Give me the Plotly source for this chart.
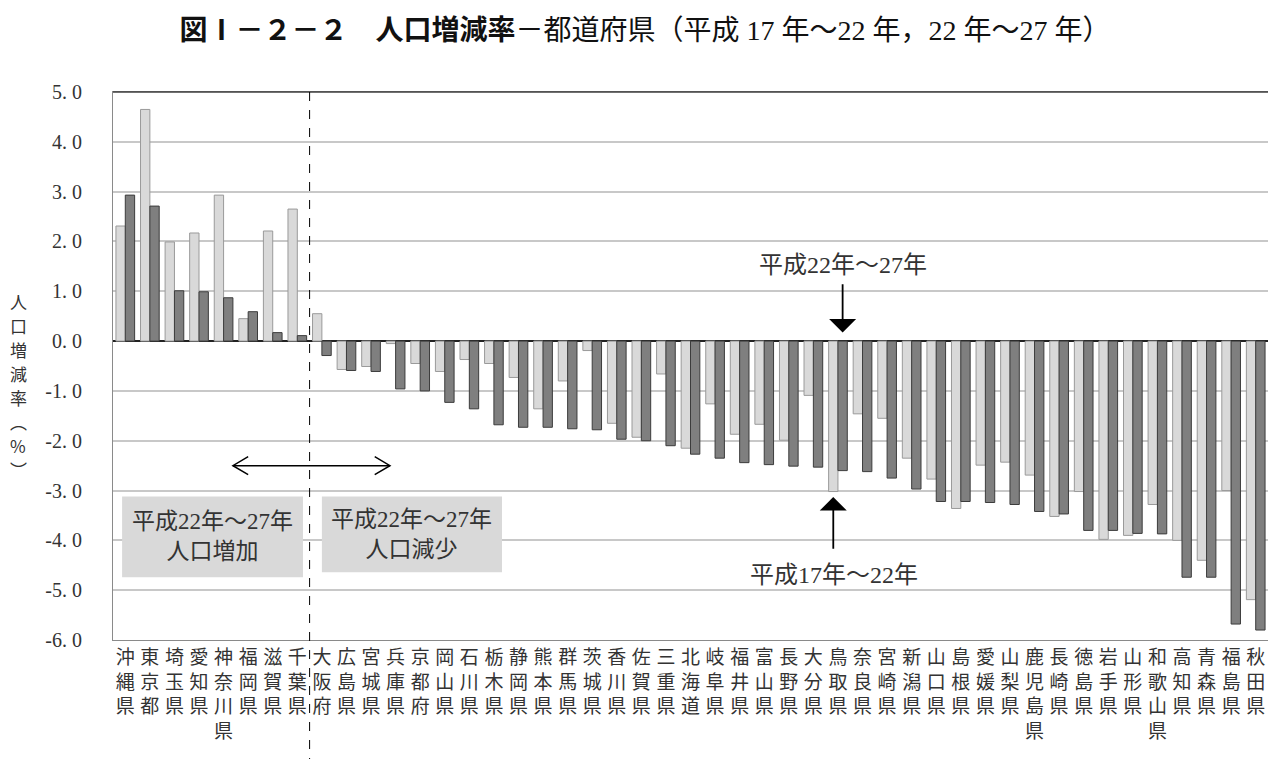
import plotly.graph_objects as go

prefs = ["沖縄県", "東京都", "埼玉県", "愛知県", "神奈川県", "福岡県", "滋賀県", "千葉県",
         "大阪府", "広島県", "宮城県", "兵庫県", "京都府", "岡山県", "石川県", "栃木県",
         "静岡県", "熊本県", "群馬県", "茨城県", "香川県", "佐賀県", "三重県", "北海道",
         "岐阜県", "福井県", "富山県", "長野県", "大分県", "鳥取県", "奈良県", "宮崎県",
         "新潟県", "山口県", "島根県", "愛媛県", "山梨県", "鹿児島県", "長崎県", "徳島県",
         "岩手県", "山形県", "和歌山県", "高知県", "青森県", "福島県", "秋田県"]

rate_h17_22 = [2.31, 4.65, 1.99, 2.17, 2.93, 0.45, 2.21, 2.65,
               0.55, -0.57, -0.51, -0.05, -0.45, -0.61, -0.37, -0.45,
               -0.73, -1.36, -0.80, -0.19, -1.65, -1.93, -0.66, -2.15,
               -1.26, -1.87, -1.67, -1.99, -1.09, -3.02, -1.46, -1.55,
               -2.35, -2.77, -3.36, -2.49, -2.43, -2.69, -3.52, -3.02,
               -3.98, -3.90, -3.28, -4.00, -4.40, -3.00, -5.19]

rate_h22_27 = [2.93, 2.71, 1.01, 0.99, 0.87, 0.59, 0.17, 0.11,
               -0.29, -0.59, -0.61, -0.96, -1.00, -1.23, -1.36, -1.68,
               -1.73, -1.73, -1.76, -1.78, -1.97, -2.00, -2.10, -2.27,
               -2.35, -2.44, -2.48, -2.51, -2.53, -2.60, -2.62, -2.75,
               -2.97, -3.22, -3.22, -3.24, -3.28, -3.42, -3.47, -3.80,
               -3.80, -3.86, -3.87, -4.74, -4.74, -5.68, -5.80]

y_ticks = [5, 4, 3, 2, 1, 0, -1, -2, -3, -4, -5, -6]
y_ticktext = ["5. 0", "4. 0", "3. 0", "2. 0", "1. 0", "0. 0", "-1. 0", "-2. 0",
              "-3. 0", "-4. 0", "-5. 0", "-6. 0"]

y_title_chars = ["人", "口", "増", "減", "率", "︵", "%", "︶"]

SERIF = "Liberation Serif, Noto Sans CJK JP"
SANS = "Noto Sans CJK JP"

xcats = ["<br>".join(p) for p in prefs]

fig = go.Figure()
fig.add_trace(go.Bar(x=xcats, y=rate_h17_22, name="平成17年～22年",
                     marker=dict(color="#d9d9d9", line=dict(color="#9a9a9a", width=1))))
fig.add_trace(go.Bar(x=xcats, y=rate_h22_27, name="平成22年～27年",
                     marker=dict(color="#7f7f7f", line=dict(color="#3c3c3c", width=1))))

n = len(prefs)
split = 7.5  # between 千葉県 and 大阪府

# figure is placed at an 8px offset in the page
W, H = 1268, 751
ML, MR, MT, MB = 105, 8, 84, 119
plot_w = W - ML - MR
plot_h = H - MT - MB

shapes = [
    dict(type="line", xref="paper", yref="paper", x0=0, x1=1, y0=1, y1=1,
         line=dict(color="#404040", width=1.5), layer="above"),
    dict(type="line", xref="paper", yref="paper",
         x0=(split + 0.5) / n, x1=(split + 0.5) / n, y0=1, y1=-(MB + 2) / plot_h,
         line=dict(color="black", width=1, dash="dash"), layer="above"),
    dict(type="rect", xref="x", yref="y", x0=-0.13, x1=7.23, y0=-3.12, y1=-4.74,
         fillcolor="#d9d9d9", line=dict(width=0), layer="above"),
    dict(type="rect", xref="x", yref="y", x0=8.0, x1=15.33, y0=-3.12, y1=-4.64,
         fillcolor="#d9d9d9", line=dict(width=0), layer="above"),
    dict(type="line", xref="x", yref="y", x0=4.38, x1=10.77, y0=-2.5, y1=-2.5,
         line=dict(color="black", width=1.5), layer="above"),
    dict(type="path", xref="x", yref="y", path="M 5.0,-2.32 L 4.38,-2.5 L 5.0,-2.68",
         line=dict(color="black", width=1.5), layer="above"),
    dict(type="path", xref="x", yref="y", path="M 10.15,-2.32 L 10.77,-2.5 L 10.15,-2.68",
         line=dict(color="black", width=1.5), layer="above"),
]

annotations = []
# vertical y-axis title, one character per annotation
for i, ch in enumerate(y_title_chars):
    ypix = 301 - 8 + 24 * i
    annotations.append(dict(
        text=ch, xref="paper", yref="paper",
        x=(18 - 8 - ML) / plot_w, y=1 - (ypix - MT) / plot_h,
        xanchor="center", yanchor="middle", showarrow=False,
        font=dict(family=SANS, size=17, color="#333333")))

annotations += [
    dict(text="平成22年～27年<br>人口増加", xref="x", yref="y", x=3.55, y=-3.93,
         showarrow=False, align="center", font=dict(family=SERIF, size=23, color="#333333")),
    dict(text="平成22年～27年<br>人口減少", xref="x", yref="y", x=11.65, y=-3.88,
         showarrow=False, align="center", font=dict(family=SERIF, size=23, color="#333333")),
    dict(text="", xref="x", yref="y", x=29.19, y=0.17, axref="x", ayref="y",
         ax=29.19, ay=1.17, showarrow=True, arrowhead=1, arrowsize=2.5, arrowwidth=1.8,
         arrowcolor="black"),
    dict(text="平成22年～27年", xref="x", yref="y", x=29.2, y=1.53, showarrow=False,
         font=dict(family=SERIF, size=24, color="#333333")),
    dict(text="", xref="x", yref="y", x=28.81, y=-3.13, axref="x", ayref="y",
         ax=28.81, ay=-4.2, showarrow=True, arrowhead=1, arrowsize=2.5, arrowwidth=1.8,
         arrowcolor="black"),
    dict(text="平成17年～22年", xref="x", yref="y", x=28.85, y=-4.69, showarrow=False,
         font=dict(family=SERIF, size=24, color="#333333")),
]

fig.update_layout(
    width=W, height=H,
    margin=dict(l=ML, r=MR, t=MT, b=MB),
    paper_bgcolor="white", plot_bgcolor="white",
    barmode="group", bargap=0.24, bargroupgap=0,
    showlegend=False,
    title=dict(
        text="<b>図Ⅰ－２－２　人口増減率</b><span style='font-family:Liberation Serif, Noto Sans CJK JP'>－都道府県（平成 17 年～22 年，22 年～27 年）</span>",
        x=(645 - 8) / W, xanchor="center", xref="container",
        y=1 - (30 - 8) / H, yanchor="middle", yref="container",
        font=dict(family=SANS, size=28, color="#111111")),
    xaxis=dict(type="category", showgrid=False, ticks="", showline=True, mirror=True,
               linecolor="#8a8a8a", linewidth=1, tickangle=0,
               tickfont=dict(family=SANS, size=19, color="#333333"),
               range=[-0.5, n - 0.5]),
    yaxis=dict(range=[-6, 5], tickvals=y_ticks, ticktext=y_ticktext,
               showgrid=True, gridcolor="#c8c8c8", gridwidth=1.5,
               zeroline=True, zerolinecolor="#222222", zerolinewidth=1.5,
               showline=True, mirror=True, linecolor="#8a8a8a", linewidth=1,
               ticks="", ticklabelstandoff=26,
               tickfont=dict(family=SERIF, size=20, color="#333333")),
    shapes=shapes,
    annotations=annotations,
)

fig.write_html("out.html")
